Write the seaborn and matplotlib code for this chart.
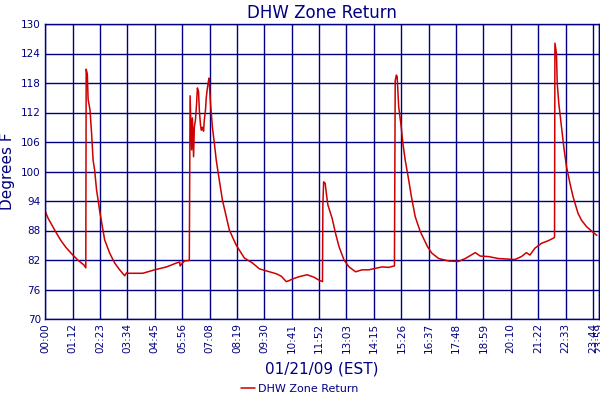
import numpy as np
import pandas as pd
import matplotlib
matplotlib.use("Agg")
import matplotlib.pyplot as plt
import seaborn as sns

# readings: minutes after midnight and temperature (F)
minutes = [0, 8, 18, 28, 41, 54, 70, 85, 101, 106,
           107, 110, 112, 117, 121, 125, 129, 134, 138, 142,
           155, 168, 181, 194, 207, 212, 215, 254, 285, 316,
           342, 350, 351, 362, 375, 377, 381, 383, 386, 388,
           391, 394, 396, 399, 401, 404, 406, 409, 412, 414,
           417, 419, 422, 426, 427, 430, 435, 440, 445, 450,
           461, 479, 497, 505, 518, 539, 557, 575, 601, 614,
           627, 634, 642, 660, 681, 699, 712, 721, 722, 724,
           728, 731, 735, 746, 755, 764, 777, 790, 807, 824,
           841, 859, 876, 893, 908, 910, 913, 915, 919, 925,
           930, 936, 945, 952, 962, 975, 994, 1005, 1023, 1049,
           1074, 1092, 1118, 1131, 1152, 1178, 1221, 1238, 1251, 1260,
           1273, 1290, 1307, 1320, 1324, 1325, 1329, 1331, 1335, 1342,
           1348, 1355, 1364, 1372, 1385, 1394, 1407, 1420, 1434]
temps = [92.0, 90.5, 89.1, 87.7, 86.0, 84.6, 83.2, 82.0, 81.0, 80.4,
         120.8, 119.8, 114.7, 112.5, 107.8, 102.3, 100.3, 96.2, 94.2, 92.0,
         86.1, 83.4, 81.4, 80.0, 78.8, 79.4, 79.3, 79.3, 80.0, 80.6,
         81.4, 81.6, 80.8, 81.8, 81.9, 115.4, 104.4, 110.9, 103.0, 109.0,
         110.5, 113.9, 117.0, 116.2, 112.5, 109.5, 108.4, 109.0, 108.2, 110.5,
         112.5, 115.0, 117.0, 119.0, 118.0, 113.9, 109.0, 105.8, 102.3, 99.7,
         94.2, 88.1, 85.0, 84.0, 82.4, 81.4, 80.2, 79.8, 79.2, 78.7,
         77.6, 77.8, 78.1, 78.6, 79.0, 78.5, 77.9, 77.6, 93.2, 97.9,
         97.6, 95.6, 93.2, 90.5, 87.4, 84.7, 82.0, 80.6, 79.6, 80.0,
         80.0, 80.3, 80.6, 80.5, 80.8, 118.5, 119.6, 119.3, 113.2, 109.5,
         105.7, 102.3, 98.3, 94.9, 90.8, 87.8, 84.7, 83.4, 82.3, 81.8,
         81.7, 82.3, 83.5, 82.8, 82.7, 82.3, 82.1, 82.7, 83.5, 83.0,
         84.4, 85.4, 85.9, 86.4, 86.6, 126.1, 124.0, 117.9, 113.9, 109.1,
         105.0, 101.0, 97.6, 94.9, 91.5, 90.1, 88.8, 87.9, 87.0]

tick_labels = ["00:00", "01:12", "02:23", "03:34", "04:45", "05:56", "07:08", "08:19",
               "09:30", "10:41", "11:52", "13:03", "14:15", "15:26", "16:37", "17:48",
               "18:59", "20:10", "21:22", "22:33", "23:44", "23:59"]
y_ticks = [70, 76, 82, 88, 94, 100, 106, 112, 118, 124, 130]

navy = "#000080"
red = "#CC0000"

df = pd.DataFrame({"minute": minutes, "temp": temps})
tick_pos = [int(t[:2]) * 60 + int(t[3:]) for t in tick_labels]

sns.set_style("white")
plt.rcParams["font.family"] = ["DejaVu Sans"]

fig = plt.figure(figsize=(6, 4), dpi=100)
ax = fig.add_axes([0.075, 0.2025, 0.923, 0.7375])

sns.lineplot(data=df, x="minute", y="temp", ax=ax, color=red, linewidth=1.1,
             label="DHW Zone Return", legend=False)

ax.set_xlim(0, 1439)
ax.set_ylim(70, 130)
ax.set_xticks(tick_pos)
ax.set_xticklabels(tick_labels, rotation=90, fontsize=7.5, color=navy)
ax.set_yticks(y_ticks)
ax.set_yticklabels([str(v) for v in y_ticks], fontsize=7.5, color=navy)
ax.tick_params(length=0, pad=3)
ax.grid(True, color=navy, linewidth=1.0)
ax.set_axisbelow(True)
for s in ax.spines.values():
    s.set_color(navy)
    s.set_linewidth(1.0)

ax.set_title("DHW Zone Return", color=navy, fontsize=12, pad=4)
ax.set_xlabel("01/21/09 (EST)", color=navy, fontsize=11, labelpad=6)
ax.set_ylabel("Degrees F", color=navy, fontsize=11, labelpad=4)

handles, labels = ax.get_legend_handles_labels()
leg = fig.legend(handles, labels, loc="lower center", bbox_to_anchor=(0.5, -0.01),
                 frameon=False, fontsize=8, handlelength=1.2, handletextpad=0.3)
for t in leg.get_texts():
    t.set_color(navy)

fig.savefig("out.png", dpi=100)
